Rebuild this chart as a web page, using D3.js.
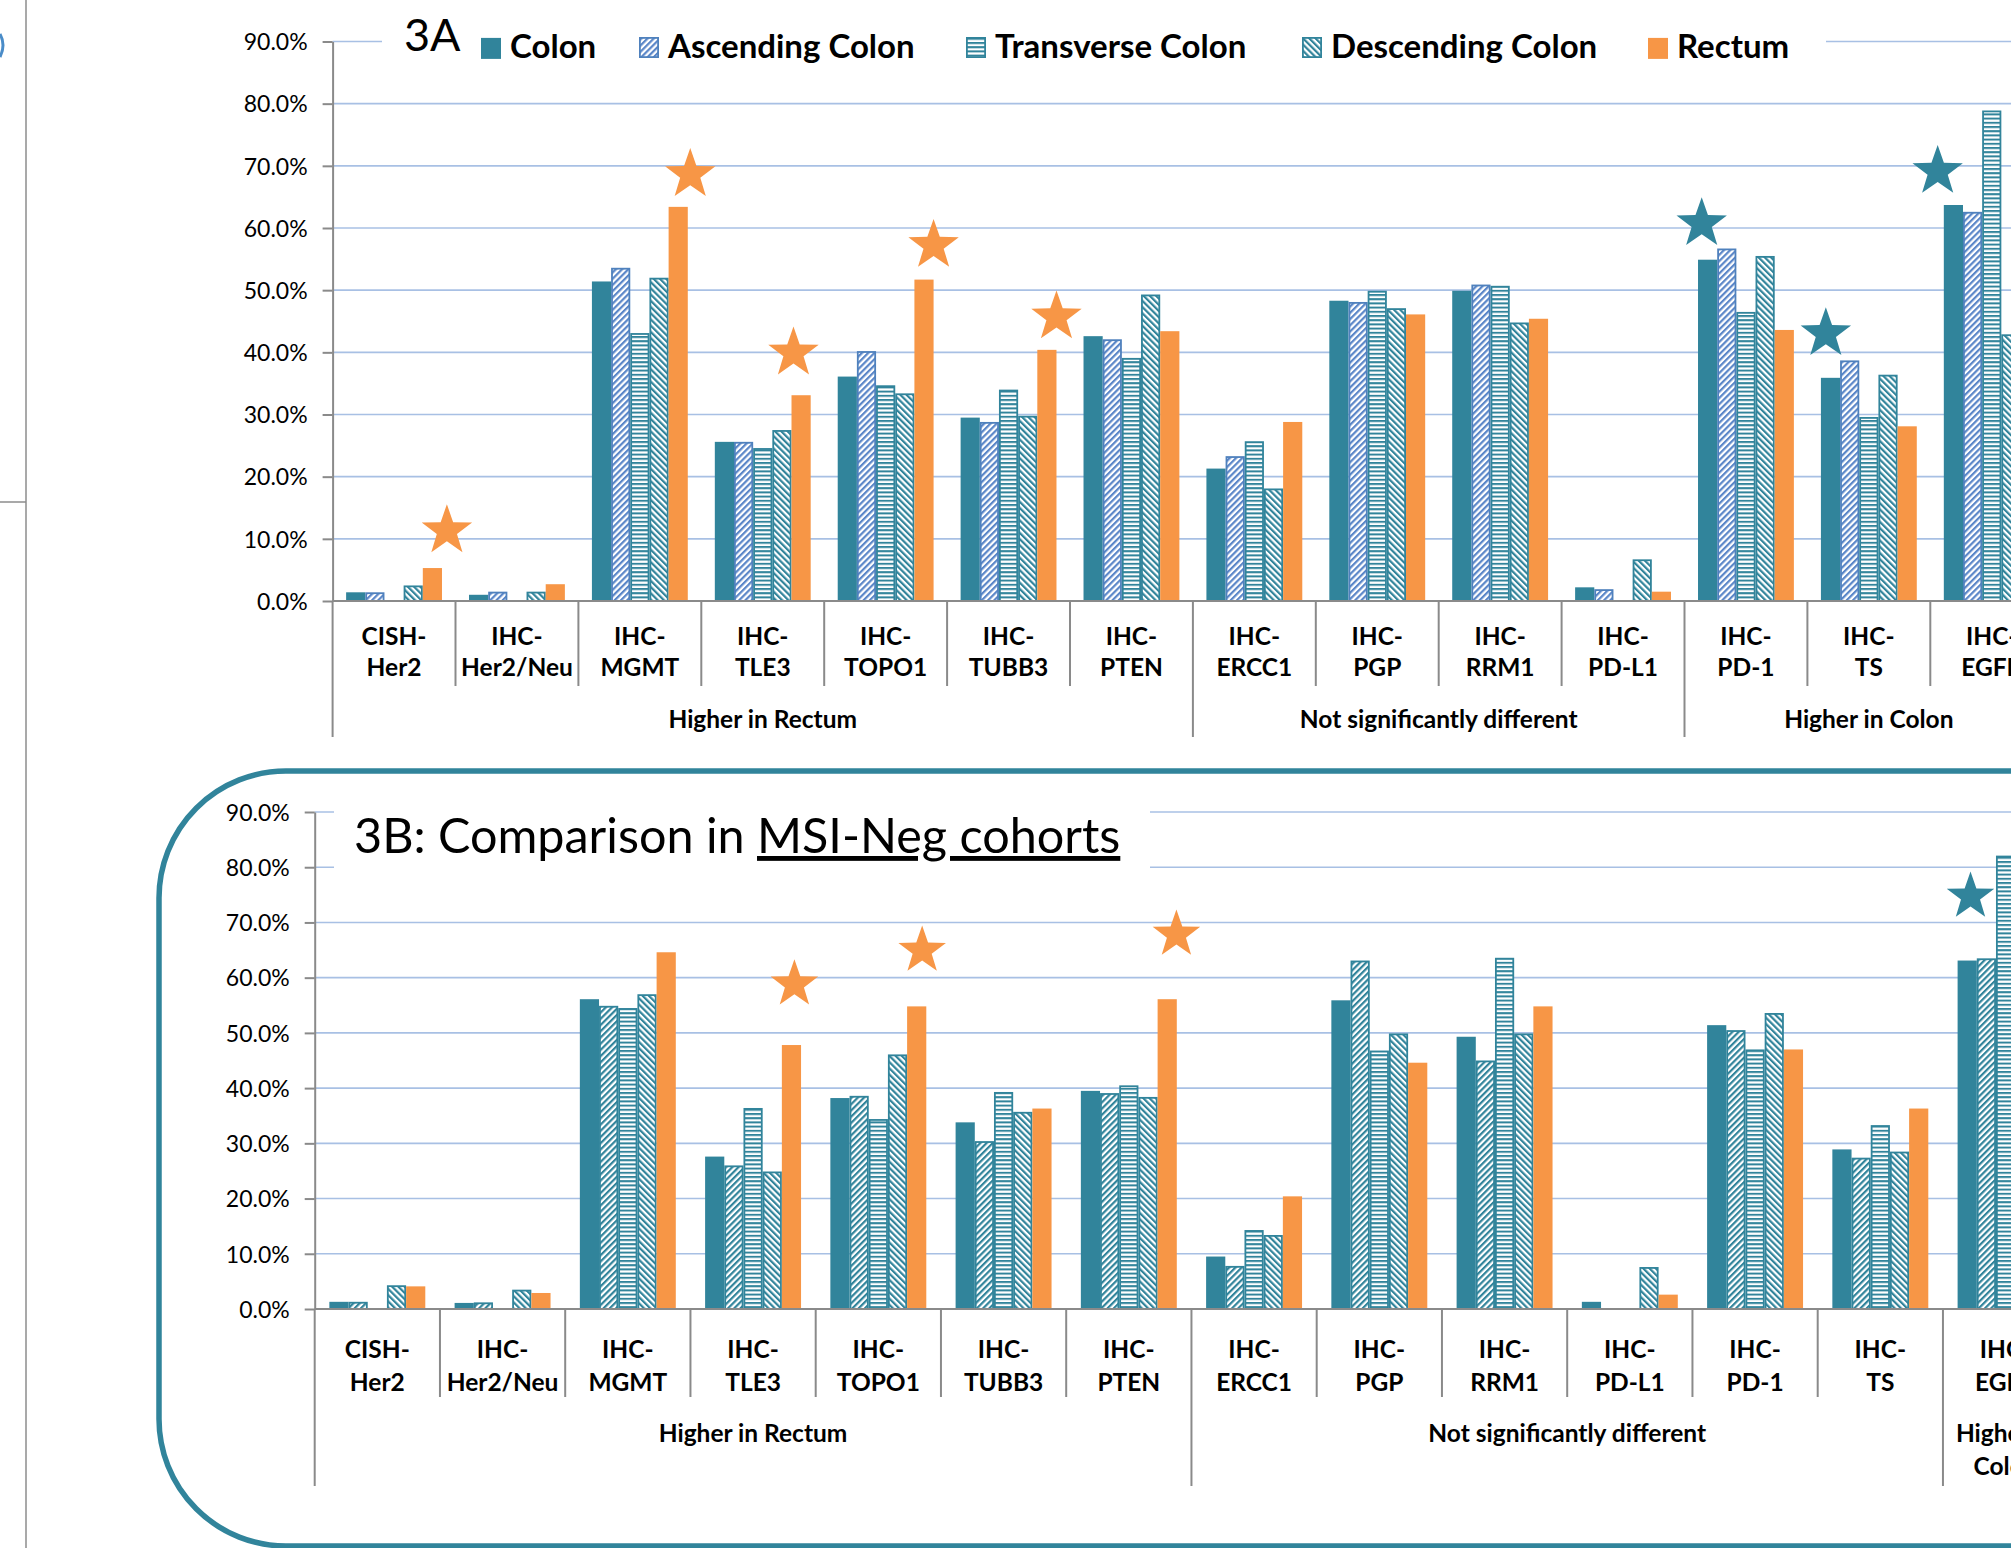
<!DOCTYPE html>
<html><head><meta charset="utf-8">
<script src="https://cdn.jsdelivr.net/npm/d3@7"></script>
<style>
body{margin:0;background:#fff}
svg{display:block}
text{font-family:Lato,"Open Sans",sans-serif;fill:#000}
</style>
</head><body>
<svg id="chart" width="2011" height="1548"></svg>
<script>
// ---------------- DATA ----------------
const categories = ["CISH-Her2","IHC-Her2/Neu","IHC-MGMT","IHC-TLE3","IHC-TOPO1","IHC-TUBB3","IHC-PTEN",
  "IHC-ERCC1","IHC-PGP","IHC-RRM1","IHC-PD-L1","IHC-PD-1","IHC-TS","IHC-EGFR"];
const seriesNames = ["Colon","Ascending Colon","Transverse Colon","Descending Colon","Rectum"];
const yTicks = [0,10,20,30,40,50,60,70,80,90];

// Panel 3A (all cohorts), percent
const a_colon      = [1.4,1.0,51.4,25.6,36.1,29.5,42.6,21.3,48.3,49.9,2.2,54.9,35.9,63.7];
const a_ascending  = [1.4,1.5,53.6,25.6,40.2,28.8,42.1,23.3,48.1,50.9,1.9,56.7,38.7,62.6];
const a_transverse = [0,0,43.1,24.6,34.7,34.0,39.1,25.7,49.9,50.7,0,46.5,29.6,78.9];
const a_descending = [2.5,1.5,52.0,27.5,33.4,29.8,49.3,18.1,47.1,44.8,6.7,55.5,36.4,42.9];
const a_rectum     = [5.3,2.7,63.4,33.1,51.7,40.4,43.4,28.8,46.1,45.4,1.5,43.6,28.1,null];
const a_groups = [["Higher in Rectum",7],["Not significantly different",4],["Higher in Colon",3]];
// stars: category, position within the category slot (0..1), value of star centre, colour key
const a_stars = [["CISH-Her2",0.93,11.3,"r"],["IHC-MGMT",0.91,68.6,"r"],["IHC-TLE3",0.75,39.9,"r"],
  ["IHC-TOPO1",0.89,57.2,"r"],["IHC-TUBB3",0.89,45.7,"r"],["IHC-PD-1",0.14,60.7,"c"],
  ["IHC-TS",0.15,43.0,"c"],["IHC-EGFR",0.06,69.1,"c"]];

// Panel 3B (MSI-Neg cohorts), percent
const b_colon      = [1.3,1.1,56.1,27.6,38.2,33.8,39.5,9.5,55.9,49.3,1.3,51.4,28.9,63.1];
const b_ascending  = [1.3,1.2,54.9,26.0,38.6,30.4,39.1,7.8,63.1,45.0,0,50.5,27.4,63.5];
const b_transverse = [0,0,54.5,36.4,34.4,39.3,40.5,14.3,46.8,63.6,0,47.0,33.3,82.1];
const b_descending = [4.3,3.5,57.0,24.9,46.1,35.7,38.4,13.4,49.9,49.9,7.6,53.6,28.5,null];
const b_rectum     = [4.1,2.9,64.6,47.8,54.8,36.3,56.1,20.4,44.6,54.8,2.6,47.0,36.3,null];
const b_groups = [["Higher in Rectum",7],["Not significantly different",6],["Higher in|Colon",1]];
const b_stars = [["IHC-TLE3",0.83,58.8,"r"],["IHC-TOPO1",0.85,64.9,"r"],["IHC-PTEN",0.88,67.8,"r"],
  ["IHC-EGFR",0.22,74.7,"c"]];

// ---------------- STYLE ----------------
const TEAL = "#31849B", ORANGE = "#F79646", BLUE = "#5A86C8";
const GRID = "#A8C0E4", AXIS = "#8A8A8A";
const W = 2011, H = 1548;
const svg = d3.select("#chart");
const defs = svg.append("defs");

function stripePattern(id, color, angle, period, thick) {
  const p = defs.append("pattern").attr("id", id).attr("patternUnits","userSpaceOnUse")
    .attr("width", period).attr("height", period)
    .attr("patternTransform", `rotate(${angle})`);
  p.append("rect").attr("width", period).attr("height", period).attr("fill", "#fff");
  p.append("rect").attr("width", thick).attr("height", period).attr("fill", color);
}
stripePattern("ascA", BLUE, 45, 4.4, 2.2);
stripePattern("ascB", TEAL, 45, 4.4, 2.2);
stripePattern("trans", TEAL, 90, 4.2, 2.0);
stripePattern("desc", TEAL, -45, 4.4, 2.2);

function starPath(cx, cy, R) {
  const r = R * 0.4, pts = [];
  for (let i = 0; i < 10; i++) {
    const a = -Math.PI/2 + i*Math.PI/5, rr = i % 2 ? r : R;
    pts.push([cx + rr*Math.cos(a), cy + rr*Math.sin(a)]);
  }
  return "M" + pts.map(p => p.join(",")).join("L") + "Z";
}

// left-side remnants of neighbouring panel
svg.append("line").attr("x1",26).attr("x2",26).attr("y1",0).attr("y2",H).attr("stroke","#8c8c8c").attr("stroke-width",1.5);
svg.append("line").attr("x1",0).attr("x2",26).attr("y1",502).attr("y2",502).attr("stroke","#8c8c8c").attr("stroke-width",1.5);
svg.append("path").attr("d","M0,34 Q6,45 0,57").attr("fill","none").attr("stroke","#4a8cc8").attr("stroke-width",3);

// 3B rounded frame
svg.append("rect").attr("x",159).attr("y",771).attr("width",2200).attr("height",775).attr("rx",127)
  .attr("fill","none").attr("stroke",TEAL).attr("stroke-width",5.5);

function drawPanel(cfg) {
  const g = svg.append("g");
  const n = categories.length;
  const x0r = [cfg.x0, cfg.x0 + n*cfg.step];
  const slot = d3.scaleBand().domain(categories).range(x0r).padding(0);
  const xb = d3.scaleBand().domain(categories).range(x0r).paddingInner(cfg.pad).paddingOuter(cfg.pad/2);
  const x1 = d3.scaleBand().domain(d3.range(5)).range([0, xb.bandwidth()]);
  const y = d3.scaleLinear().domain([0,90]).range([cfg.yBottom, cfg.yTop]);

  // grid
  g.append("g").selectAll("line").data(yTicks.filter(t => t > 0)).join("line")
    .attr("x1", cfg.x0).attr("x2", W).attr("y1", d => y(d)).attr("y2", d => y(d))
    .attr("stroke", GRID).attr("stroke-width", 1.6);

  // white box under title / legend
  g.append("rect").attr("x", cfg.box[0]).attr("y", cfg.box[1]).attr("width", cfg.box[2]).attr("height", cfg.box[3]).attr("fill","#fff");

  // bars
  const fills = ["solid", cfg.ascFill, "url(#trans)", "url(#desc)", "solid"];
  const bars = [];
  cfg.series.forEach((vals, si) => vals.forEach((v, ci) => {
    if (v != null && v > 0) bars.push({cat: categories[ci], si, v});
  }));
  const solid = d => d.si === 0 || d.si === 4;
  g.append("g").selectAll("rect").data(bars).join("rect")
    .attr("x", d => xb(d.cat) + x1(d.si) + (solid(d) ? 0 : 0.9))
    .attr("width", d => x1.bandwidth() - (solid(d) ? 0 : 1.8))
    .attr("y", d => y(d.v) + (solid(d) ? 0 : 0.9))
    .attr("height", d => y(0) - y(d.v) - (solid(d) ? 0 : 0.9))
    .attr("fill", d => d.si === 0 ? TEAL : d.si === 4 ? ORANGE : fills[d.si])
    .attr("stroke", d => solid(d) ? "none" : (d.si === 1 ? cfg.ascStroke : TEAL))
    .attr("stroke-width", 1.8);

  // stars
  g.append("g").selectAll("path").data(cfg.stars).join("path")
    .attr("d", d => starPath(slot(d[0]) + d[1]*slot.step(), y(d[2]), cfg.starR))
    .attr("fill", d => d[3] === "r" ? ORANGE : TEAL);

  // y axis
  const yAxis = d3.axisLeft(y).tickValues(yTicks).tickFormat(d => d.toFixed(1) + "%")
    .tickSizeInner(10).tickSizeOuter(0).tickPadding(15);
  const ya = g.append("g").attr("transform", `translate(${cfg.x0},0)`).call(yAxis);
  ya.select(".domain").attr("stroke", AXIS).attr("stroke-width", 2);
  ya.selectAll(".tick line").attr("stroke", AXIS).attr("stroke-width", 2);
  ya.selectAll(".tick text").attr("font-size", 23).attr("font-family","Lato").attr("dy","0.36em").attr("fill","#000");

  // x axis baseline
  g.append("line").attr("x1", cfg.x0).attr("x2", W).attr("y1", y(0)).attr("y2", y(0))
    .attr("stroke", AXIS).attr("stroke-width", 2);

  // separators
  const groupStarts = [0]; let acc = 0;
  cfg.groups.forEach(gr => { acc += gr[1]; groupStarts.push(acc); });
  const bounds = d3.range(n + 1);
  g.append("g").selectAll("line").data(bounds).join("line")
    .attr("x1", k => cfg.x0 + k*slot.step()).attr("x2", k => cfg.x0 + k*slot.step())
    .attr("y1", y(0)).attr("y2", k => groupStarts.includes(k) ? cfg.groupBottom : cfg.tickBottom)
    .attr("stroke", AXIS).attr("stroke-width", 2);

  // category labels
  const cl = g.append("g").selectAll("text").data(categories).join("text")
    .attr("text-anchor","middle").attr("font-size",24.5).attr("font-weight","bold");
  cl.append("tspan").attr("x", d => slot(d) + slot.bandwidth()/2).attr("y", cfg.lab1)
    .text(d => d.slice(0, d.indexOf("-") + 1));
  cl.append("tspan").attr("x", d => slot(d) + slot.bandwidth()/2).attr("y", cfg.lab2)
    .text(d => d.slice(d.indexOf("-") + 1));

  // group labels
  cfg.groups.forEach((gr, i) => {
    const xs = cfg.x0 + groupStarts[i]*slot.step(), xe = cfg.x0 + groupStarts[i+1]*slot.step();
    const t = g.append("text").attr("text-anchor","middle").attr("font-size",24.5).attr("font-weight","bold");
    gr[0].split("|").forEach((line, li) => {
      t.append("tspan").attr("x", (xs+xe)/2).attr("y", cfg.grpY + li*33).text(line);
    });
  });
  return {y, slot};
}

drawPanel({
  x0: 332.6, step: 122.9, pad: 0.22, yBottom: 601, yTop: 41.5,
  series: [a_colon, a_ascending, a_transverse, a_descending, a_rectum],
  ascFill: "url(#ascA)", ascStroke: "#4F81BD",
  stars: a_stars, starR: 26.5, groups: a_groups,
  tickBottom: 686, groupBottom: 737, lab1: 645, lab2: 676, grpY: 728,
  box: [382, 28, 1444, 30]
});
drawPanel({
  x0: 314.7, step: 125.25, pad: 0.234, yBottom: 1309, yTop: 812,
  series: [b_colon, b_ascending, b_transverse, b_descending, b_rectum],
  ascFill: "url(#ascB)", ascStroke: TEAL,
  stars: b_stars, starR: 25, groups: b_groups,
  tickBottom: 1397, groupBottom: 1486, lab1: 1358, lab2: 1391, grpY: 1442,
  box: [334, 800, 816, 76]
});

// 3A label + legend
svg.append("text").attr("x",404).attr("y",51).attr("font-size",45).text("3A");
const legendX = [481, 639, 966, 1302, 1648];
const legendFill = [TEAL, "url(#ascA)", "url(#trans)", "url(#desc)", ORANGE];
const legendStroke = ["none", "#4F81BD", TEAL, TEAL, "none"];
const lg = svg.append("g").selectAll("g").data(seriesNames).join("g");
lg.append("rect").attr("x",(d,i)=>legendX[i]+ (i===0||i===4?0:0.9)).attr("y",37.9)
  .attr("width",(d,i)=> i===0||i===4 ? 20 : 18.2).attr("height",(d,i)=> i===0||i===4 ? 21 : 19.2)
  .attr("fill",(d,i)=>legendFill[i]).attr("stroke",(d,i)=>legendStroke[i]).attr("stroke-width",1.8);
lg.append("text").attr("x",(d,i)=>legendX[i]+29).attr("y",58).attr("font-size",33).attr("font-weight","bold").text(d=>d);

// 3B title
const tt = svg.append("text").attr("x",354).attr("y",853).attr("font-size",48.5);
tt.append("tspan").text("3B: Comparison in ");
tt.append("tspan").attr("text-decoration","underline").text("MSI-Neg cohorts");
</script>
</body></html>
